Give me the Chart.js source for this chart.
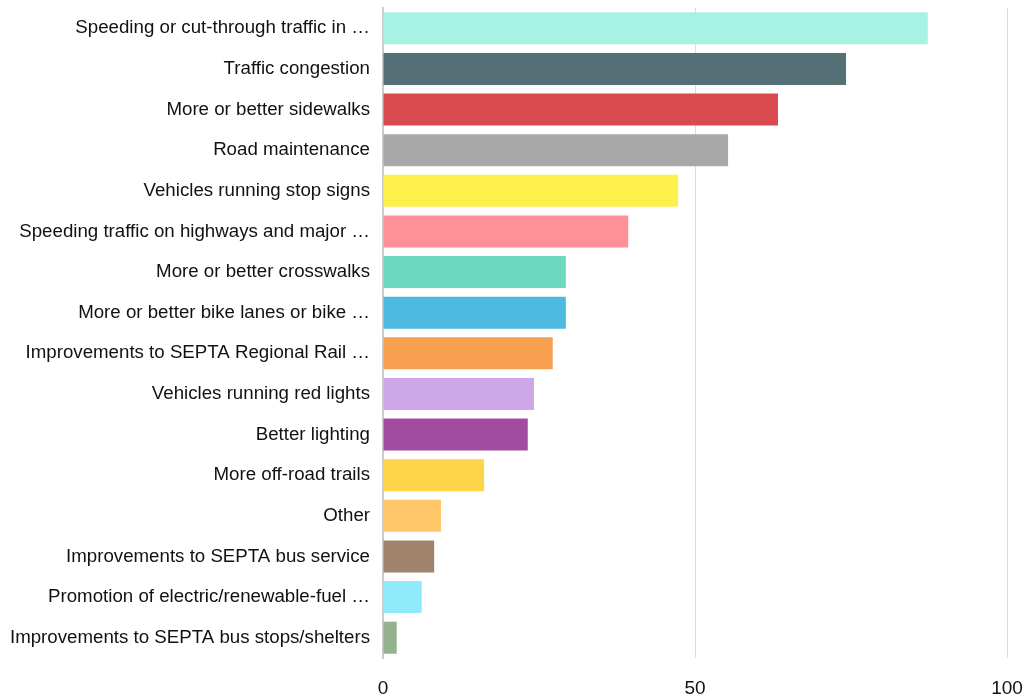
<!DOCTYPE html>
<html>
<head>
<meta charset="utf-8">
<script src="https://cdn.jsdelivr.net/npm/chart.js@4"></script>
<style>
  html, body { margin: 0; padding: 0; background: #fff; }
  #wrap { width: 1024px; height: 698px; position: relative; }
</style>
</head>
<body>
<div id="wrap"><canvas id="grafico"></canvas></div>
<script>
const categorias = [
    "Speeding or cut-through traffic in …",
    "Traffic congestion",
    "More or better sidewalks",
    "Road maintenance",
    "Vehicles running stop signs",
    "Speeding traffic on highways and major …",
    "More or better crosswalks",
    "More or better bike lanes or bike …",
    "Improvements to SEPTA Regional Rail …",
    "Vehicles running red lights",
    "Better lighting",
    "More off-road trails",
    "Other",
    "Improvements to SEPTA bus service",
    "Promotion of electric/renewable-fuel …",
    "Improvements to SEPTA bus stops/shelters"
];

const valores = [87.3, 74.2, 63.3, 55.3, 47.3, 39.3, 29.3, 29.3, 27.2, 24.2, 23.2, 16.2, 9.3, 8.2, 6.2, 2.2];

const colores = [
    "#a6f3e4", "#546f75", "#d84a4e", "#a8a8a8", "#fef04b", "#ff9097",
    "#6bd8bf", "#4dbbe0", "#f6a050", "#cda7e8", "#a24ca1", "#fed448",
    "#fec86a", "#a0836a", "#8fe9f8", "#95b28e"
];

const ticksX = [0, 50, 100];

const data = {
    labels: categorias,
    datasets: [{
        data: valores,
        backgroundColor: colores,
        borderWidth: 0,
        barPercentage: 0.79,
        categoryPercentage: 1
    }]
};

const config = {
    type: 'bar',
    data: data,
    options: {
        indexAxis: 'y',
        responsive: true,
        maintainAspectRatio: false,
        animation: false,
        layout: {
            padding: { top: 8, right: 17, left: 0, bottom: 0 }
        },
        plugins: {
            legend: { display: false },
            tooltip: { enabled: false }
        },
        scales: {
            x: {
                min: 0,
                max: 100,
                afterBuildTicks: (eje) => {
                    eje.ticks = ticksX.map(v => ({ value: v }));
                },
                afterFit: (eje) => {
                    eje.height = 40;
                    eje.paddingLeft = 0;
                    eje.paddingRight = 0;
                },
                grid: {
                    color: '#dddddd',
                    lineWidth: 1,
                    drawTicks: false
                },
                border: { display: false },
                ticks: {
                    padding: 19,
                    color: '#111',
                    font: { family: "'Liberation Sans', Arial", size: 19 }
                }
            },
            y: {
                afterFit: (eje) => {
                    eje.width = 383;
                    eje.paddingTop = 0;
                    eje.paddingBottom = 0;
                },
                grid: { display: false, drawTicks: false },
                border: { display: true, color: '#cccccc', width: 2 },
                ticks: {
                    padding: 13,
                    color: '#111',
                    font: { family: "'Liberation Sans', Arial", size: 18.7 }
                }
            }
        }
    }
};

const miChart = new Chart(document.getElementById('grafico'), config);
</script>
</body>
</html>
